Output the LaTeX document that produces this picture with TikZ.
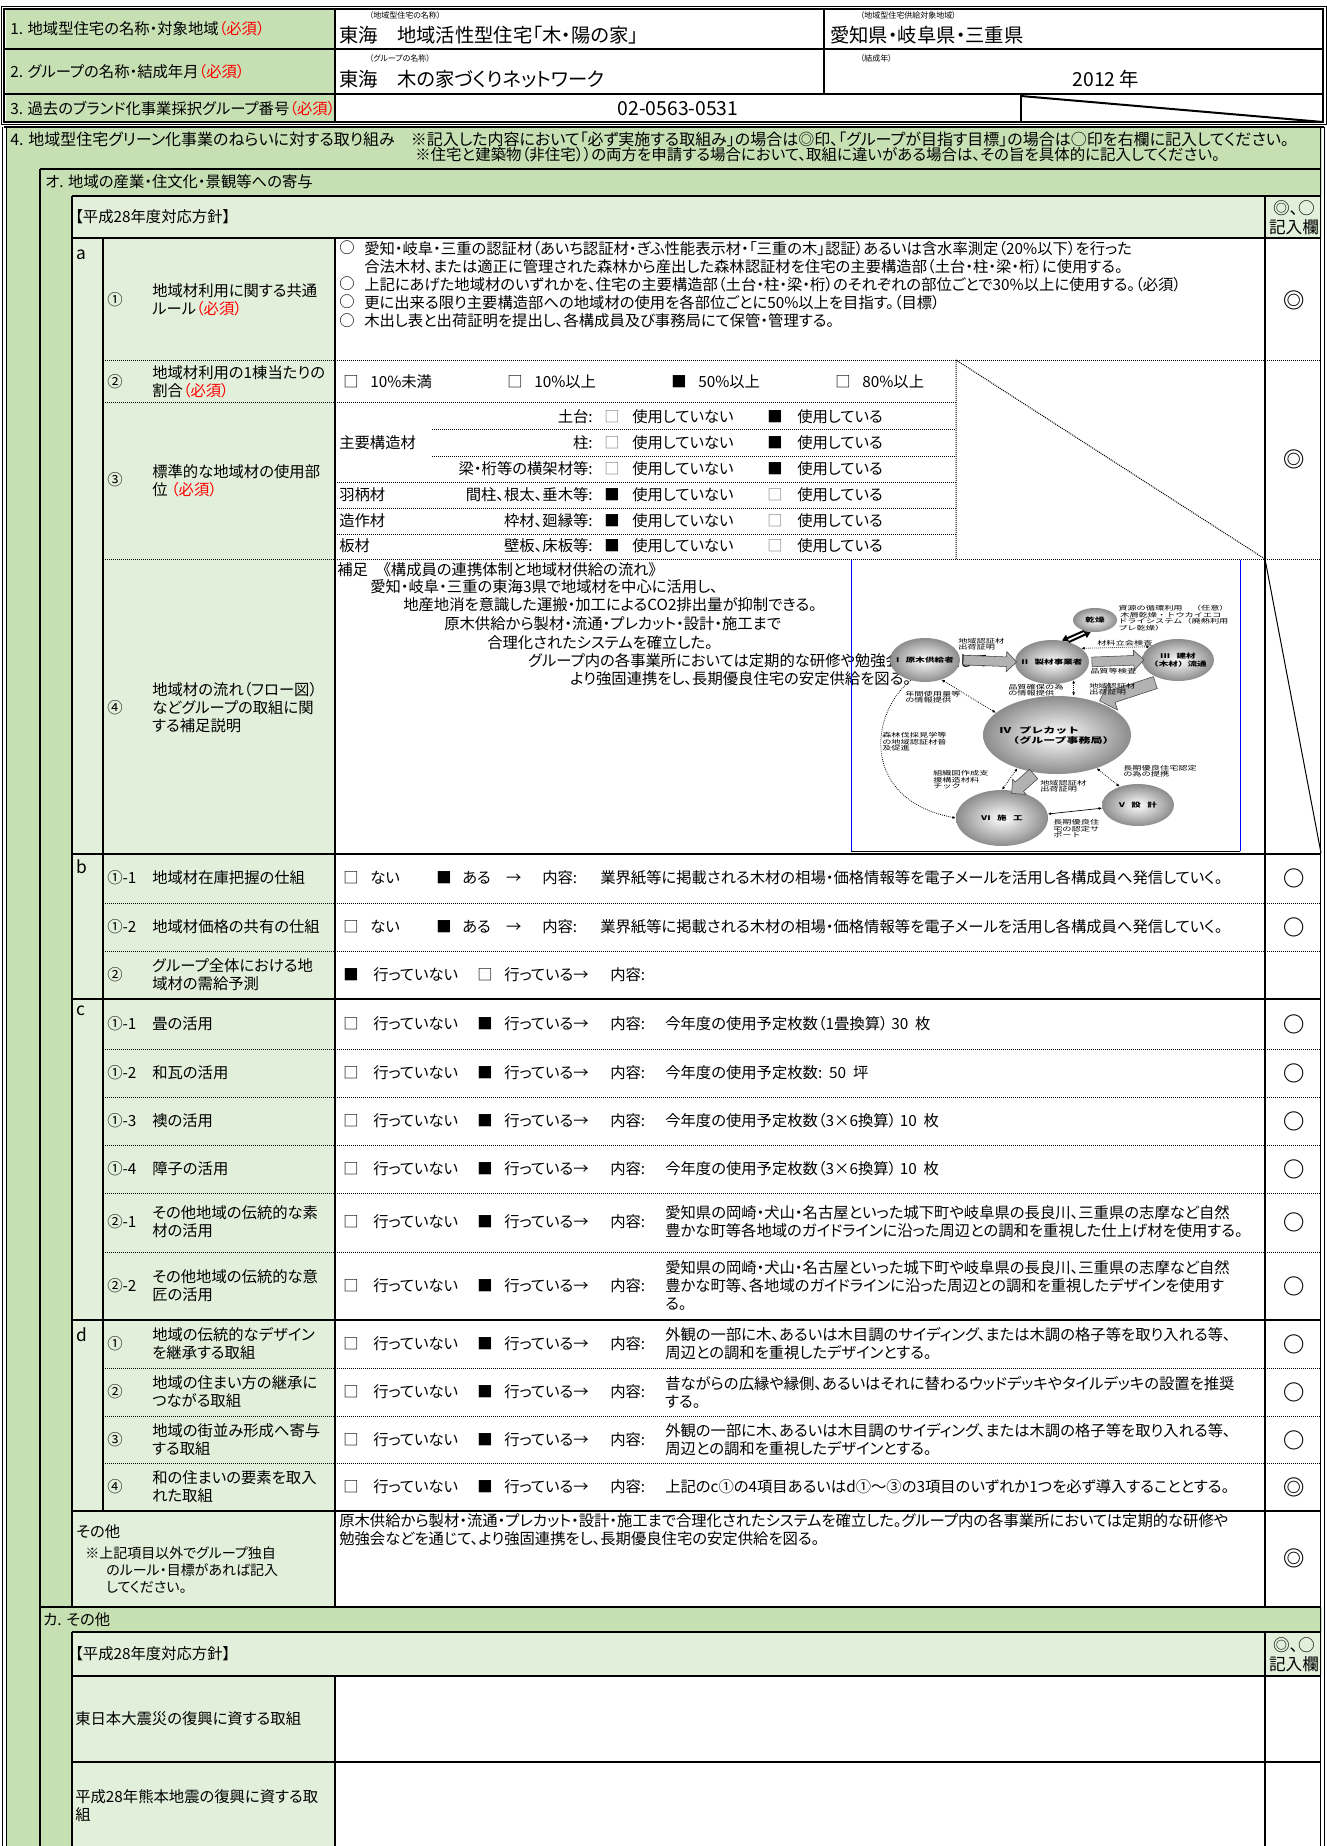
\documentclass[tikz,border=0pt]{standalone}
\usepackage{fontspec}
\setmainfont{Noto Sans CJK JP}[RawFeature=+palt]
\newfontfamily\figfont{Noto Sans CJK JP}[FakeStretch=1.5]
\usetikzlibrary{shapes.geometric,shapes.arrows,arrows.meta,positioning}
\definecolor{gmid}{HTML}{C6E0B4}
\definecolor{glt}{HTML}{E2EFDA}
\definecolor{hissu}{HTML}{FF0000}
\definecolor{picblue}{HTML}{0000FF}
\newcommand{\mustmark}{\textcolor{hissu}{（必須）}}
\tikzset{
  txt/.style={anchor=west,inner sep=0pt,align=left,font=\fontsize{11.5}{13.5}\selectfont},
  rtxt/.style={txt,anchor=east,align=right},
  smalltxt/.style={txt,font=\fontsize{10.5}{12.5}\selectfont},
  bigtxt/.style={txt,font=\fontsize{14.5}{17}\selectfont},
  captxt/.style={txt,font=\fontsize{6}{7}\selectfont},
  headtxt/.style={txt,font=\fontsize{12}{13.5}\selectfont},
  kinyutxt/.style={txt,anchor=center,align=center,font=\fontsize{12.5}{14.5}\selectfont},
  markc/.style={inner sep=0pt,font=\fontsize{16}{16}\selectfont\bfseries},
  solidl/.style={line width=1.5pt},
  thinl/.style={line width=0.75pt},
  dotl/.style={line width=0.75pt,dash pattern=on 0.75pt off 0.75pt},
  ell/.style={ellipse,inner sep=0pt,draw=none,inner color=white,outer color=gray!90},
  elltxt/.style={inner sep=0pt,align=center,font=\figfont\fontsize{4.8}{5.6}\selectfont\bfseries},
  tinytxt/.style={anchor=west,inner sep=0pt,align=left,font=\figfont\fontsize{4.6}{4.9}\selectfont},
  fatarr/.style={single arrow,draw=black!75,fill=gray!60,line width=0.4pt,inner xsep=0pt,inner ysep=3.4pt,single arrow head extend=4pt,sloped,allow upside down},
  dotarr/.style={dash pattern=on 0.6pt off 0.9pt,line width=0.6pt,{Latex[length=2.5pt,width=2.2pt]}-{Latex[length=2.5pt,width=2.2pt]}},
  blkarr/.style={line width=1.5pt,-{Triangle[length=4.5pt,width=5.5pt]}},
}
\begin{document}
\begin{tikzpicture}[x=0.75pt,y=-0.75pt]
\useasboundingbox (0,0) rectangle (1327,1846);
% backgrounds
\fill[gmid] (6,9) rectangle (335,122);
\fill[gmid] (6,126) rectangle (1322,1846);
\fill[glt] (72,196) rectangle (1322,1607);
\fill[white] (335,238) rectangle (1322,1607);
\fill[glt] (72,1632) rectangle (1322,1846);
\fill[white] (335,1676) rectangle (1322,1846);

% 1.-3. header rows
\node[txt] (h1) at (10,29) {1. 地域型住宅の名称・対象地域\mustmark};
\node[txt] (h2) at (10,72) {2. グループの名称・結成年月\mustmark};
\node[txt] (h3) at (10,109) {3. 過去のブランド化事業採択グループ番号\mustmark};
\node[captxt] (c1) at (369,15) {（地域型住宅の名称）};
\node[bigtxt] (v1) at (339,35) {東海　地域活性型住宅「木・陽の家」};
\node[captxt] (c2) at (860,15) {（地域型住宅供給対象地域）};
\node[bigtxt] (v2) at (830,35) {愛知県・岐阜県・三重県};
\node[captxt] (c3) at (369,58) {（グループの名称）};
\node[bigtxt] (v3) at (339,79) {東海　木の家づくりネットワーク};
\node[captxt] (c4) at (860,58) {（結成年）};
\node[bigtxt,anchor=center] (v4) at (1106,79) {2012 年};
\node[bigtxt,anchor=center] (v5) at (678,109) {02-0563-0531};

% 4. section heads
\node[headtxt] (s4a) at (10,139) {4. 地域型住宅グリーン化事業のねらいに対する取り組み　※記入した内容において「必ず実施する取組み」の場合は◎印、「グループが目指す目標」の場合は○印を右欄に記入してください。};
\node[txt,font=\fontsize{11.6}{13.5}\selectfont] (s4b) at (415,155) {※住宅と建築物（非住宅））の両方を申請する場合において、取組に違いがある場合は、その旨を具体的に記入してください。};
\node[txt] (so) at (45,182) {オ. 地域の産業・住文化・景観等への寄与};
\node[txt] (hoshin1) at (75,217) {【平成28年度対応方針】};
\node[kinyutxt] (kinyu1) at (1294,218) {◎、○\\記入欄};

% group letters
\foreach \yy/\lt in {255/a,867/b,1011/c,1335/d}
  \node[txt,font=\fontsize{13}{13}\selectfont] (lt\lt) at (76,\yy) {\lt};

% a: labels
\node[txt] (an1) at (107,300) {①};
\node[txt] (al1) at (152,300) {地域材利用に関する共通\\ルール\mustmark};
\node[txt] (an2) at (107,382) {②};
\node[txt] (al2) at (152,382) {地域材利用の1棟当たりの\\割合\mustmark};
\node[txt] (an3) at (107,480) {③};
\node[txt] (al3) at (152,481) {標準的な地域材の使用部\\位 \mustmark};
\node[txt] (an4) at (107,708) {④};
\node[txt] (al4) at (152,708) {地域材の流れ（フロー図）\\などグループの取組に関\\する補足説明};

% a-1 content
\foreach \yy in {248,284,302,321} \node[txt] (ab\yy) at (339,\yy) {○};
\node[txt] (at1) at (364,284.5) {愛知・岐阜・三重の認証材（あいち認証材・ぎふ性能表示材・「三重の木」認証）あるいは含水率測定（20\%以下）を行った\\合法木材、または適正に管理された森林から産出した森林認証材を住宅の主要構造部（土台・柱・梁・桁）に使用する。\\上記にあげた地域材のいずれかを、住宅の主要構造部（土台・柱・梁・桁）のそれぞれの部位ごとで30\%以上に使用する。（必須）\\更に出来る限り主要構造部への地域材の使用を各部位ごとに50\%以上を目指す。（目標）\\木出し表と出荷証明を提出し、各構成員及び事務局にて保管・管理する。};

% a-2 content
\foreach \xx/\bx/\tx in {343/□/10\%未満,507/□/10\%以上,671/■/50\%以上,835/□/80\%以上}{
  \node[txt] (pb\xx) at (\xx,382) {\bx};
  \node[txt] (pt\xx) at (\xx+27,382) {\tx};
}

% a-3 content
\node[txt] (g1) at (339,443) {主要構造材};
\node[txt] (g2) at (339,495) {羽柄材};
\node[txt] (g3) at (339,521) {造作材};
\node[txt] (g4) at (339,546) {板材};
\foreach \yy/\part in {417/土台:,443/柱:,469/梁・桁等の横架材等:}{
  \node[rtxt] (bu\yy) at (593,\yy) {\part};
  \node[txt,text=gray] (ba\yy) at (604,\yy) {□};
  \node[txt] (bb\yy) at (632,\yy) {使用していない};
  \node[txt] (bc\yy) at (767,\yy) {■};
  \node[txt] (bd\yy) at (797,\yy) {使用している};
}
\foreach \yy/\part in {495/{間柱、根太、垂木等:},521/{枠材、廻縁等:},546/{壁板、床板等:}}{
  \node[rtxt] (bu\yy) at (593,\yy) {\part};
  \node[txt] (ba\yy) at (604,\yy) {■};
  \node[txt] (bb\yy) at (632,\yy) {使用していない};
  \node[txt,text=gray] (bc\yy) at (767,\yy) {□};
  \node[txt] (bd\yy) at (797,\yy) {使用している};
}

% a-4 content
\node[txt] (f1) at (337,570) {補足　《構成員の連携体制と地域材供給の流れ》};
\node[txt] (f2) at (370,587) {愛知・岐阜・三重の東海3県で地域材を中心に活用し、};
\node[txt] (f3) at (403,605) {地産地消を意識した運搬・加工によるCO2排出量が抑制できる。};
\node[txt] (f4) at (444,624) {原木供給から製材・流通・プレカット・設計・施工まで};
\node[txt] (f5) at (487,643) {合理化されたシステムを確立した。};
\node[txt] (f6) at (528,661) {グループ内の各事業所においては定期的な研修や勉強会などを通じて};
\node[txt] (f7) at (570,679) {より強固連携をし、長期優良住宅の安定供給を図る。};

% b
\foreach \yy/\num/\lbl in {878/①-1/地域材在庫把握の仕組,927/①-2/地域材価格の共有の仕組}{
  \node[txt] (bn\yy) at (107,\yy) {\num};
  \node[txt] (bl\yy) at (152,\yy) {\lbl};
  \node[txt] (bx\yy) at (343,\yy) {□};
  \node[txt] (by\yy) at (370,\yy) {ない};
  \node[txt] (bz\yy) at (436,\yy) {■};
  \node[txt] (bw\yy) at (462,\yy) {ある　→};
  \node[txt] (bv\yy) at (542,\yy) {内容:};
  \node[txt] (bt\yy) at (600,\yy) {業界紙等に掲載される木材の相場・価格情報等を電子メールを活用し各構成員へ発信していく。};
}
\node[txt] (bn975) at (107,975) {②};
\node[txt] (bl975) at (152,975) {グループ全体における地\\域材の需給予測};
\node[txt] (bx975) at (343,975) {■};
\node[txt] (by975) at (373,975) {行っていない};
\node[txt] (bz975) at (477,975) {□};
\node[txt] (bw975) at (504,975) {行っている→};
\node[txt] (bv975) at (610,975) {内容:};

% c, d labels
\foreach \yy/\num/\lbl in {1024/①-1/畳の活用,1073/①-2/和瓦の活用,1121/①-3/襖の活用,1169/①-4/障子の活用,1222/②-1/{その他地域の伝統的な素\\材の活用},1286/②-2/{その他地域の伝統的な意\\匠の活用},1344/①/{地域の伝統的なデザイン\\を継承する取組},1392/②/{地域の住まい方の継承に\\つながる取組},1440/③/{地域の街並み形成へ寄与\\する取組},1487/④/{和の住まいの要素を取入\\れた取組}}{
  \node[txt] (cn\yy) at (107,\yy) {\num};
  \node[txt] (cl\yy) at (152,\yy) {\lbl};
  \node[txt] (ka\yy) at (343,\yy) {□};
  \node[txt] (kb\yy) at (373,\yy) {行っていない};
  \node[txt] (kc\yy) at (477,\yy) {■};
  \node[txt] (kd\yy) at (504,\yy) {行っている→};
  \node[txt] (ke\yy) at (610,\yy) {内容:};
}
\node[txt] (ct1) at (665,1024) {今年度の使用予定枚数（1畳換算）\ 30\ \ 枚};
\node[txt] (ct2) at (665,1073) {今年度の使用予定枚数:\ \ 50\ \ 坪};
\node[txt] (ct3) at (665,1121) {今年度の使用予定枚数（3×6換算）\ 10\ \ 枚};
\node[txt] (ct4) at (665,1169) {今年度の使用予定枚数（3×6換算）\ 10\ \ 枚};
\node[txt] (ct5) at (665,1222) {愛知県の岡崎・犬山・名古屋といった城下町や岐阜県の長良川、三重県の志摩など自然\\豊かな町等各地域のガイドラインに沿った周辺との調和を重視した仕上げ材を使用する。};
\node[txt] (ct6) at (665,1285) {愛知県の岡崎・犬山・名古屋といった城下町や岐阜県の長良川、三重県の志摩など自然\\豊かな町等、各地域のガイドラインに沿った周辺との調和を重視したデザインを使用す\\る。};
\node[txt] (dt1) at (665,1344) {外観の一部に木、あるいは木目調のサイディング、または木調の格子等を取り入れる等、\\周辺との調和を重視したデザインとする。};
\node[txt] (dt2) at (665,1392) {昔ながらの広縁や縁側、あるいはそれに替わるウッドデッキやタイルデッキの設置を推奨\\する。};
\node[txt] (dt3) at (665,1440) {外観の一部に木、あるいは木目調のサイディング、または木調の格子等を取り入れる等、\\周辺との調和を重視したデザインとする。};
\node[txt] (dt4) at (665,1487) {上記のc①の4項目あるいはd①～③の3項目のいずれか1つを必ず導入することとする。};

% sonota
\node[txt] (ot1) at (76,1532) {その他};
\node[smalltxt] (ot2) at (85,1553) {※上記項目以外でグループ独自};
\node[smalltxt] (ot3) at (106,1570) {のルール・目標があれば記入};
\node[smalltxt] (ot4) at (106,1587) {してください。};
\node[txt] (ot5) at (339,1530) {原木供給から製材・流通・プレカット・設計・施工まで合理化されたシステムを確立した。グループ内の各事業所においては定期的な研修や\\勉強会などを通じて、より強固連携をし、長期優良住宅の安定供給を図る。};

% marks
\foreach \yy/\mk in {300/◎,459/◎,878/○,927/○,1024/○,1073/○,1121/○,1169/○,1222/○,1286/○,1344/○,1392/○,1440/○,1487/◎,1558/◎}
  \node[markc] (m\yy) at (1294,\yy) {\mk};

% ka
\node[txt] (sk) at (43,1620) {カ. その他};
\node[txt] (hoshin2) at (75,1654) {【平成28年度対応方針】};
\node[kinyutxt] (kinyu2) at (1294,1655) {◎、○\\記入欄};
\node[txt] (kl1) at (75,1719) {東日本大震災の復興に資する取組};
\node[txt] (kl2) at (75,1806) {平成28年熊本地震の復興に資する取\\組};

% lines header
\draw[thinl] (1,6) rectangle (1326,124);
\draw[solidl] (4,9) rectangle (1323,122);
\draw[solidl] (4,49) -- (1323,49) (4,94) -- (1323,94);
\draw[solidl] (335,9) -- (335,122) (824,9) -- (824,94) (1021,94) -- (1021,122);
\draw[solidl] (1021,96) -- (1323,122);
% lines section 4
\draw[solidl] (4,127) -- (1324,127);
\draw[thinl] (2,127) -- (2,1846) (6,127) -- (6,1846) (1320,127) -- (1320,1846) (1324,127) -- (1324,1846);
\draw[solidl] (40,169) -- (1321,169) (40,169) -- (40,1846);
\draw[solidl] (72,196) -- (1321,196) (72,196) -- (72,1607);
\draw[solidl] (1265,196) -- (1265,1607) (335,238) -- (335,1607) (103,238) -- (103,1511);
\foreach \yy in {238,854,999,1320,1511} \draw[solidl] (72,\yy) -- (1321,\yy);
\draw[solidl] (40,1607) -- (1321,1607);
\draw[solidl] (72,1632) -- (1321,1632) (72,1632) -- (72,1846);
\draw[solidl] (72,1676) -- (1321,1676) (72,1762) -- (1321,1762);
\draw[solidl] (335,1676) -- (335,1846) (1265,1632) -- (1265,1846);
% dotted rows
\foreach \yy in {360,559,903,951,1049,1097,1145,1193,1252,1368,1416,1463} \draw[dotl] (103,\yy) -- (1321,\yy);
\draw[dotl] (103,402) -- (956,402);
\foreach \yy in {429,456} \draw[dotl] (432,\yy) -- (956,\yy);
\foreach \yy in {482,508,534} \draw[dotl] (335,\yy) -- (956,\yy);
\draw[dotl] (956,360) -- (956,559) (956,360) -- (1265,559);
\draw[thinl] (1265,559) -- (1321,853);

% flow chart
\draw[picblue,thinl] (851,560) -- (851,851) (1240,560) -- (1240,851);
\draw[thinl] (851,851) -- (1240,851);
\node[ell,minimum width=33pt,minimum height=18pt] (kanso) at (1095,620) {};
\node[ell,minimum width=52.5pt,minimum height=33pt] (genboku) at (925,660) {};
\node[ell,minimum width=55.5pt,minimum height=33pt] (seizai) at (1052,662) {};
\node[ell,minimum width=54pt,minimum height=31.5pt] (kenzai) at (1178,660) {};
\node[ell,minimum width=111pt,minimum height=58.5pt] (precut) at (1057,735) {};
\node[ell,minimum width=54pt,minimum height=31.5pt] (sekkei) at (1138,805) {};
\node[ell,minimum width=69pt,minimum height=42pt] (seko) at (1002,818) {};
\node[elltxt] (kansot) at (kanso) {乾燥};
\node[elltxt] (genbokut) at (genboku) {I\quad 原木供給者};
\node[elltxt] (seizait) at (seizai) {II\quad 製材事業者};
\node[elltxt] (kenzait) at (kenzai) {III\quad 建材\\（木材）流通};
\node[elltxt,align=left,font=\figfont\fontsize{6}{7.5}\selectfont\bfseries] (precutt) at (precut) {IV\quad プレカット\\\quad（グループ事務局）};
\node[elltxt] (sekkeit) at (sekkei) {V\quad 設\quad 計};
\node[elltxt] (sekot) at (seko) {VI\quad 施\quad 工};
% block arrows
\path (genboku.east) -- (seizai.west) node[midway,fatarr,minimum height=40pt] (ar1) {};
\path (seizai.east) -- (kenzai.west) node[midway,fatarr,minimum height=39pt] (ar2) {};
\path (kenzai.235) -- (precut.40) node[midway,fatarr,minimum height=44pt,inner ysep=4.5pt,single arrow head extend=6pt] (ar3) {};
\path (precut.-120) -- (seko.65) node[midway,fatarr,minimum height=22pt,inner ysep=4.5pt,single arrow head extend=3pt] (ar4) {};
\draw[blkarr] (kanso.225) -- (seizai.65);
\draw[blkarr] (seizai.50) -- (kanso.250);
% dotted links
\draw[dotarr] (genboku.-50) -- (precut.160);
\draw[dotarr] (seizai.-40) -- (seizai.-40 |- precut.north);
\draw[dotarr] (seizai.25) -- (kenzai.155);
\draw[dotarr] (precut.-40) -- (sekkei.135);
\draw[dotarr] (precut.-140) -- (seko.90);
\draw[line width=0.5pt,{Latex[length=2.5pt,width=2.2pt]}-{Latex[length=2.5pt,width=2.2pt]}] (seko.5) -- (sekkei.185);
\draw[dash pattern=on 0.6pt off 0.9pt,line width=0.6pt,-{Latex[length=2.5pt,width=2.2pt]}] (genboku.235) .. controls (868,715) and (862,800) .. (seko.west);
% flow labels
\node[tinytxt] (fl1) at (1118,618) {資源の循環利用　（任意）\\\ 木屑乾燥・トウカイエコ\\ドライシステム（廃熱利用\\プレ乾燥）};
\node[tinytxt] (fl2) at (958,644) {地域認証材\\出荷証明};
\node[tinytxt] (fl3) at (1097,643) {材料立会検査};
\node[tinytxt] (fl4) at (1090,671) {品質等検査};
\node[tinytxt] (fl5) at (1008,690) {品質確保の為\\の情報提供};
\node[tinytxt] (fl6) at (1089,689) {地域認証材\\出荷証明};
\node[tinytxt] (fl7) at (905,697) {年間使用量等\\の情報提供};
\node[tinytxt] (fl8) at (882,742) {森林伐採見学等\\の地域認証材普\\及促進};
\node[tinytxt] (fl9) at (933,780) {組織図作成支\\援構造材料\\チック};
\node[tinytxt] (fl10) at (1040,786) {地域認証材\\出荷証明};
\node[tinytxt] (fl11) at (1123,771) {長期優良住宅認定\\の為の提携};
\node[tinytxt] (fl12) at (1053,829) {長期優良住\\宅の認定サ\\ポート};
\end{tikzpicture}
\end{document}
